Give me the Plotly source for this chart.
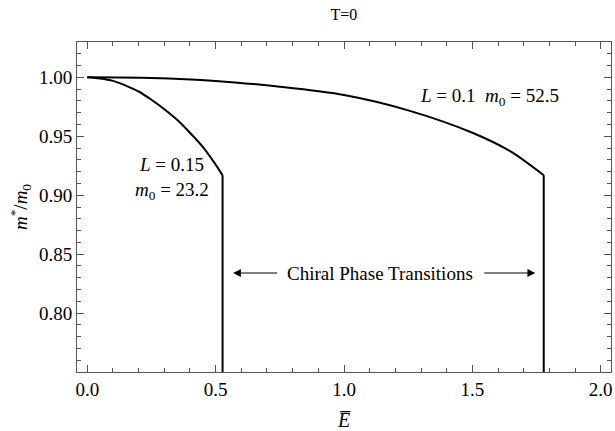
import plotly.graph_objects as go

# Effective mass ratio vs. field strength at T=0
e_l015 = [0.0, 0.05, 0.10, 0.15, 0.20, 0.25, 0.30, 0.35, 0.40, 0.45, 0.50, 0.527]
m_l015 = [1.000, 0.999, 0.997, 0.993, 0.988, 0.981, 0.973, 0.964, 0.953, 0.941, 0.926, 0.917]

e_l01 = [0.0, 0.25, 0.50, 0.75, 1.00, 1.25, 1.50, 1.65, 1.778]
m_l01 = [1.000, 0.9995, 0.997, 0.992, 0.985, 0.972, 0.953, 0.937, 0.917]

# critical fields where the mass drops off
e_crit = [0.527, 1.778]
y_floor = 0.75

x_ticks = [0.0, 0.5, 1.0, 1.5, 2.0]
y_ticks = [0.80, 0.85, 0.90, 0.95, 1.00]

font_main = "Liberation Serif, Times New Roman, serif"
line_style = dict(color="black", width=2)

fig = go.Figure()
for ex, my, ec in [(e_l015, m_l015, e_crit[0]), (e_l01, m_l01, e_crit[1])]:
    fig.add_trace(go.Scatter(x=ex, y=my, mode="lines", line=dict(**line_style, shape="spline", smoothing=0.8),
                             showlegend=False, hoverinfo="skip"))
    fig.add_trace(go.Scatter(x=[ec, ec], y=[my[-1], y_floor], mode="lines",
                             line=line_style, showlegend=False, hoverinfo="skip"))

axis_common = dict(
    showgrid=False, zeroline=False, showline=True, linecolor="#555555", linewidth=1,
    mirror="allticks", ticks="inside", ticklen=7, tickcolor="#555555", tickwidth=1,
    tickfont=dict(family=font_main, size=19, color="black"), automargin=False,
)

fig.update_xaxes(range=[-0.04, 2.04], tickvals=x_ticks,
                 ticktext=[f"{v:.1f}" for v in x_ticks],
                 minor=dict(dtick=0.1, ticklen=4, ticks="inside", tickcolor="#555555"),
                 title=dict(text="<i>E\u0305</i>", font=dict(family=font_main, size=20, color="black"),
                            standoff=22),
                 **axis_common)
fig.update_yaxes(range=[y_floor, 1.03], tickvals=y_ticks,
                 ticktext=[f"{v:.2f}" for v in y_ticks],
                 minor=dict(dtick=0.01, ticklen=4, ticks="inside", tickcolor="#555555"),
                 title=dict(text="<i>m</i><sup>*</sup>/<i>m</i><sub>0</sub>",
                            font=dict(family=font_main, size=19, color="black"), standoff=6),
                 **axis_common)

ann_font = dict(family=font_main, size=19, color="black")
fig.add_annotation(x=1.29, y=0.983, xanchor="left", showarrow=False, font=ann_font,
                   text="<i>L</i> = 0.1  <i>m</i><sub>0</sub> = 52.5")
fig.add_annotation(x=0.33, y=0.914, showarrow=False, font=ann_font,
                   text="<i>L</i> = 0.15<br><i>m</i><sub>0</sub> = 23.2")
fig.add_annotation(x=1.142, y=0.834, showarrow=False, font=ann_font,
                   text="Chiral Phase Transitions")
# arrows pointing to both transition lines
fig.add_annotation(x=0.568, y=0.834, ax=0.745, ay=0.834, xref="x", yref="y",
                   axref="x", ayref="y", showarrow=True, arrowhead=2, arrowsize=1.3,
                   arrowwidth=1.2, arrowcolor="black", text="")
fig.add_annotation(x=1.745, y=0.834, ax=1.54, ay=0.834, xref="x", yref="y",
                   axref="x", ayref="y", showarrow=True, arrowhead=2, arrowsize=1.3,
                   arrowwidth=1.2, arrowcolor="black", text="")

fig.update_layout(
    width=615, height=431,
    margin=dict(l=77, r=4, t=42, b=59, autoexpand=False),
    paper_bgcolor="white", plot_bgcolor="white",
    title=dict(text="T=0", x=0.559, xanchor="center", y=0.967, yanchor="middle",
               font=dict(family=font_main, size=16, color="black")),
)

fig.write_html("out.html")
